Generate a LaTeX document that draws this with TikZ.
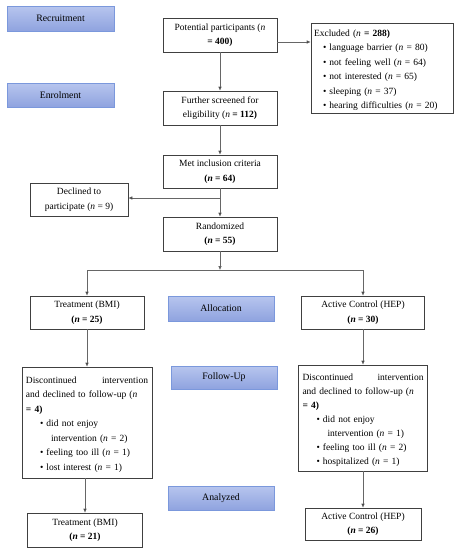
\documentclass[tikz,border=0pt]{standalone}
\usepackage{fontspec}
\setmainfont{Liberation Serif}
\usetikzlibrary{arrows.meta}
\definecolor{lblborder}{HTML}{7B98DC}
\definecolor{lbltop}{HTML}{B7C5EE}
\definecolor{lblbot}{HTML}{8FA3DF}
\definecolor{linegray}{HTML}{666666}
\tikzset{
  box/.style={draw=black!75, line width=0.6pt, fill=white, inner sep=2pt, align=center,
    font=\fontsize{9.5}{14.5}\selectfont, execute at begin node={\rule{0pt}{11pt}}},
  lbl/.style={draw=lblborder, line width=0.6pt, top color=lbltop, bottom color=lblbot,
    inner sep=0pt, font=\fontsize{9.8}{11}\selectfont},
  conn/.style={draw=linegray, line width=0.6pt},
  arr/.style={conn, -{Latex[length=4pt,width=3.6pt,fill=black]}}
}
\newcommand{\nn}{\textit{n}}
\begin{document}
\begin{tikzpicture}[x=1pt,y=-1pt]
\useasboundingbox (0,0) rectangle (463,550);
% phase labels
\node[lbl, minimum width=107, minimum height=25] (recruit) at (60.5,18.5) {Recruitment};
\node[lbl, minimum width=107, minimum height=24] (enrol) at (60.5,95) {Enrolment};
\node[lbl, minimum width=106, minimum height=25] (alloc) at (221,308.5) {Allocation};
\node[lbl, minimum width=106, minimum height=23] (follow) at (224,377.5) {Follow-Up};
\node[lbl, minimum width=106, minimum height=24] (analyzed) at (221,498) {Analyzed};
% boxes
\node[box, minimum width=114, minimum height=34] (pot) at (220,35) {Potential participants (\nn\\ \textbf{= 400)}};
\node[box, minimum width=142, minimum height=90, align=left, text width=136] (excl) at (382,68)
 {Excluded (\nn{} \textbf{= 288)}\\
  \hspace*{9pt}\textbullet\ language barrier (\nn{} = 80)\\
  \hspace*{9pt}\textbullet\ not feeling well (\nn{} = 64)\\
  \hspace*{9pt}\textbullet\ not interested (\nn{} = 65)\\
  \hspace*{9pt}\textbullet\ sleeping (\nn{} = 37)\\
  \hspace*{9pt}\textbullet\ hearing difficulties (\nn{} = 20)};
\node[box, minimum width=114, minimum height=34] (further) at (220,108) {Further screened for\\ eligibility (\nn{} \textbf{= 112)}};
\node[box, minimum width=114, minimum height=33] (met) at (220,171.5) {Met inclusion criteria\\ \textbf{(\nn{} = 64)}};
\node[box, minimum width=98, minimum height=33] (decl) at (79,199.5) {Declined to\\ participate (\nn{} = 9)};
\node[box, minimum width=114, minimum height=34] (rand) at (220,234) {Randomized\\ \textbf{(\nn{} = 55)}};
\node[box, minimum width=114, minimum height=33] (treat) at (87,312.5) {Treatment (BMI)\\ \textbf{(\nn{} = 25)}};
\node[box, minimum width=123, minimum height=33] (active) at (363,312.5) {Active Control (HEP)\\ \textbf{(\nn{} = 30)}};
\node[box, minimum width=130, minimum height=111, align=left, text width=122] (disc1) at (87,422.5)
 {Discontinued\hfill intervention\\
  and declined to follow-up (\nn\\
  \textbf{= 4)}\\
  \hspace*{14pt}\textbullet\ did not enjoy\\
  \hspace*{25pt}intervention (\nn{} = 2)\\
  \hspace*{14pt}\textbullet\ feeling too ill (\nn{} = 1)\\
  \hspace*{14pt}\textbullet\ lost interest (\nn{} = 1)};
\node[box, minimum width=129, minimum height=106, align=left, text width=121, font=\fontsize{9.5}{14}\selectfont] (disc2) at (363,418)
 {Discontinued\hfill intervention\\
  and declined to follow-up (\nn\\
  \textbf{= 4)}\\
  \hspace*{14pt}\textbullet\ did not enjoy\\
  \hspace*{25pt}intervention (\nn{} = 1)\\
  \hspace*{14pt}\textbullet\ feeling too ill (\nn{} = 2)\\
  \hspace*{14pt}\textbullet\ hospitalized (\nn{} = 1)};
\node[box, minimum width=115, minimum height=34] (final1) at (85,530) {Treatment (BMI)\\ \textbf{(\nn{} = 21)}};
\node[box, minimum width=116, minimum height=32] (final2) at (363,524) {Active Control (HEP)\\ \textbf{(\nn{} = 26)}};
% connectors
\coordinate (split) at (220,270);
\coordinate (splitL) at (87,270);
\coordinate (splitR) at (363,270);
\coordinate (branch) at (220,198);
\draw[arr] (pot.south) -- (further.north);
\draw[arr] (pot.east |- 0,42) -- (excl.west |- 0,42);
\draw[arr] (further.south) -- (met.north);
\draw[arr] (met.south) -- (rand.north -| met.south);
\draw[arr] (branch) -- (decl.east |- branch);
\draw[arr] (rand.south) -- (split);
\draw[conn] (splitL) -- (splitR);
\draw[arr] (splitL) -- (treat.north);
\draw[arr] (splitR) -- (active.north);
\draw[arr] (treat.south) -- (disc1.north);
\draw[arr] (active.south) -- (disc2.north);
\draw[arr] (disc1.south -| final1.north) -- (final1.north);
\draw[arr] (disc2.south) -- (final2.north);
\end{tikzpicture}
\end{document}
